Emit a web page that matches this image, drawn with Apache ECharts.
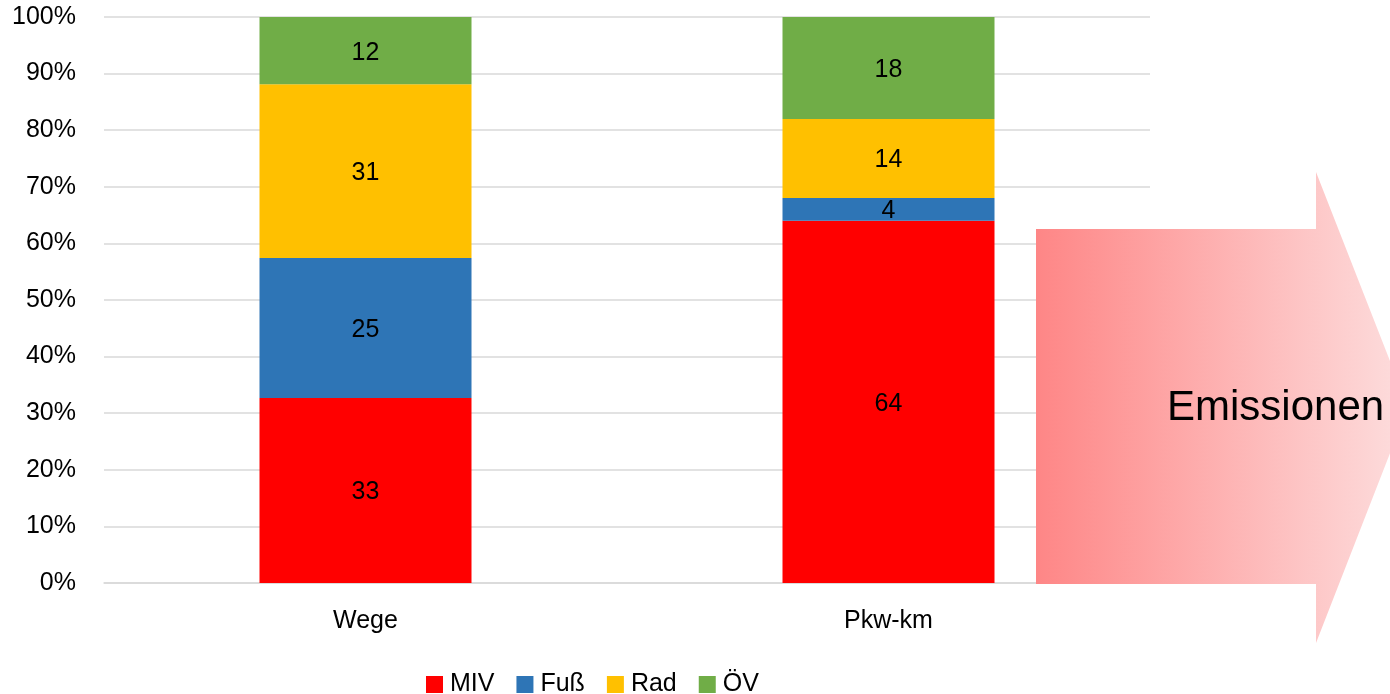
<!DOCTYPE html>
<html>
<head>
<meta charset="utf-8">
<script src="https://cdn.jsdelivr.net/npm/echarts@6/dist/echarts.min.js"></script>
<style>html,body{margin:0;padding:0;background:#fff}#c{width:1390px;height:694px}</style>
</head>
<body>
<div id="c"></div>
<script>
const categories = ['Wege', 'Pkw-km'];
const seriesNames = ['MIV', 'Fuß', 'Rad', 'ÖV'];
const MIV = [33, 64];
const Fuss = [25, 4];
const Rad = [31, 14];
const OEV = [12, 18];
const yTicks = [0, 10, 20, 30, 40, 50, 60, 70, 80, 90, 100];
const colors = ['#FF0000', '#2E75B6', '#FFC000', '#70AD47'];
const arrowText = 'Emissionen';

const raw = [MIV, Fuss, Rad, OEV];
const totals = categories.map((_, i) => raw.reduce((s, a) => s + a[i], 0));
const FONT = 'Liberation Sans';

const chart = echarts.init(document.getElementById('c'));
chart.setOption({
  animation: false,
  textStyle: { fontFamily: FONT },
  grid: { left: 104, right: 240, top: 17, bottom: 111 },
  legend: {
    left: 426, top: 672, padding: 0,
    itemWidth: 17, itemHeight: 17, itemGap: 22,
    icon: 'rect',
    textStyle: { fontSize: 25, color: '#000', fontFamily: FONT, padding: [0, 0, 0, 2] },
    data: seriesNames
  },
  xAxis: {
    type: 'category', data: categories,
    axisLine: { lineStyle: { color: '#D9D9D9', width: 1.5 } },
    axisTick: { show: false },
    axisLabel: { fontSize: 25, color: '#000', margin: 26 }
  },
  yAxis: {
    type: 'value', min: yTicks[0], max: yTicks[yTicks.length - 1], interval: 10,
    axisLine: { show: false }, axisTick: { show: false },
    splitLine: { lineStyle: { color: '#D9D9D9', width: 1.5 } },
    axisLabel: { fontSize: 25, color: '#000', margin: 28, padding: [3, 0, 0, 0], formatter: v => v + '%' }
  },
  series: seriesNames.map((name, si) => ({
    name, type: 'bar', stack: 'total', barWidth: 212,
    itemStyle: { color: colors[si] },
    label: {
      show: true, position: 'inside', fontSize: 25, color: '#000', fontFamily: FONT, offset: [0, 2],
      formatter: p => String(raw[si][p.dataIndex])
    },
    data: raw[si].map((v, i) => v / totals[i] * 100)
  })),
  graphic: [
    {
      type: 'polygon', z: 100,
      shape: { points: [[1036, 229], [1316, 229], [1316, 172], [1408, 407], [1316, 643], [1316, 584], [1036, 584]] },
      style: {
        fill: { type: 'linear', x: 0, y: 0, x2: 1, y2: 0,
          colorStops: [{ offset: 0, color: '#FE8686' }, { offset: 1, color: '#FDDEDE' }] }
      }
    },
    {
      type: 'text', z: 101, x: 1167, y: 408,
      style: { text: arrowText, fontSize: 42, fontFamily: FONT, fill: '#000', textVerticalAlign: 'middle' }
    }
  ]
});
</script>
</body>
</html>
